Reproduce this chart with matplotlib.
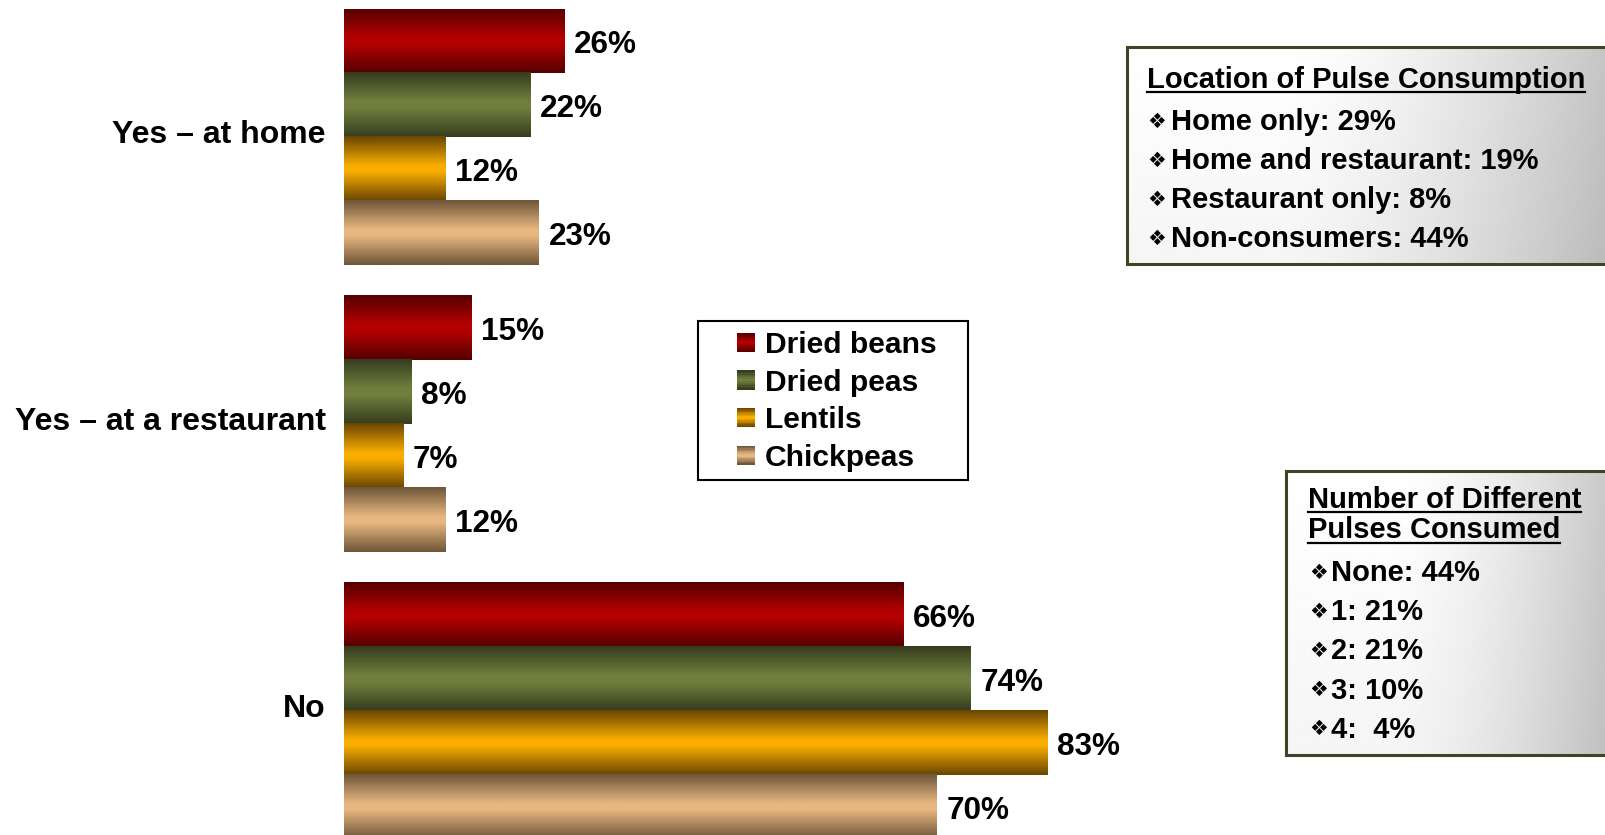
import numpy as np
import matplotlib.pyplot as plt
from matplotlib.colors import LinearSegmentedColormap
from matplotlib.legend_handler import HandlerBase
from matplotlib.patches import Rectangle
from matplotlib.lines import Line2D
from matplotlib.transforms import ScaledTranslation

plt.rcParams['font.family'] = ['Liberation Sans', 'DejaVu Sans']
plt.rcParams['font.weight'] = 'bold'

categories = ['Yes – at home', 'Yes – at a restaurant', 'No']
series = ['Dried beans', 'Dried peas', 'Lentils', 'Chickpeas']
beans = [26, 15, 66]
peas = [22, 8, 74]
lentils = [12, 7, 83]
chickpeas = [23, 12, 70]

location_title = 'Location of Pulse Consumption'
location_items = ['Home only: 29%', 'Home and restaurant: 19%',
                  'Restaurant only: 8%', 'Non-consumers: 44%']
number_title = ['Number of Different', 'Pulses Consumed']
number_items = ['None: 44%', '1: 21%', '2: 21%', '3: 10%', '4:  4%']

# (dark edge, bright middle) for the shaded bars
colors = [('#560000', '#b50000'),
          ('#353d1e', '#717f3e'),
          ('#6a4600', '#f9ad00'),
          ('#6f573a', '#e8b680')]

W, H = 1606, 835
fig = plt.figure(figsize=(W / 100, H / 100), dpi=100)


def fx(px):
    return px / W


def fy(py):
    return 1 - py / H


class GradientHandler(HandlerBase):
    def __init__(self, cmap):
        super().__init__()
        self.cmap = cmap

    def create_artists(self, legend, orig_handle, xdescent, ydescent,
                       width, height, fontsize, trans):
        n = 14
        out = []
        for k in range(n):
            r = Rectangle((-xdescent, -ydescent + height * (n - 1 - k) / n),
                          width, height / n * 1.05,
                          facecolor=self.cmap(k / (n - 1)), edgecolor='none',
                          transform=trans)
            out.append(r)
        return out


# axes: 287 px per category, bars start at x=344 px
h = 0.223
unit = 287.0
top_px = 9.2
span = 2 + 4 * h
ax = fig.add_axes([fx(344), fy(top_px + span * unit), 847 / W, span * unit / H])
y = np.arange(len(categories))
grad = np.linspace(0, 1, 64).reshape(-1, 1)
containers = []
handlers = {}
for j, vals in enumerate([beans, peas, lentils, chickpeas]):
    dark, mid = colors[j]
    cmap = LinearSegmentedColormap.from_list(
        'g%d' % j, [(0, dark), (0.45, mid), (0.55, mid), (1, dark)])
    bars = ax.barh(y + (j - 1.5) * h, vals, height=h, color=mid)
    for b in bars:
        ax.imshow(grad, cmap=cmap, aspect='auto', interpolation='bilinear',
                  extent=(b.get_x(), b.get_x() + b.get_width(),
                          b.get_y() + b.get_height(), b.get_y()), zorder=3)
    for b, v in zip(bars, vals):
        ax.annotate(f'{v}%', (b.get_width(), b.get_y() + b.get_height() / 2),
                    xytext=(7, -3), textcoords='offset points',
                    va='center', ha='left', fontsize=22.7, fontweight='bold')
    containers.append(bars)
    handlers[bars] = GradientHandler(cmap)

ax.set_xlim(0, 100)
ax.set_ylim(2 + 2 * h, -2 * h)
ax.set_yticks(y, categories, fontsize=23, fontweight='bold')
ax.tick_params(axis='y', length=0, pad=13)
ax.set_xticks([])
for s in ax.spines.values():
    s.set_visible(False)
# category labels sit a little above the group centres
lift = ScaledTranslation(0, 4 / 72, fig.dpi_scale_trans)
for lab in ax.get_yticklabels():
    lab.set_transform(lab.get_transform() + lift)

# legend
fig.legend(containers, series, handler_map=handlers, loc='upper left',
           bbox_to_anchor=(fx(737), fy(331)), borderaxespad=0, borderpad=0,
           frameon=False, fontsize=21.6, handlelength=0.6, handleheight=0.6,
           handletextpad=0.33, labelspacing=0.32)
fig.add_artist(Rectangle((fx(698), fy(480)), 270 / W, 159 / H,
                         transform=fig.transFigure, fill=False,
                         ec='black', lw=1.5))


def text_box(x0, y0, x1, y1):
    bax = fig.add_axes([fx(x0), fy(y1), (x1 - x0) / W, (y1 - y0) / H])
    X, Y = np.meshgrid(np.linspace(0, 1, 200), np.linspace(0, 1, 100))
    g = 1 - 0.26 * np.clip((X - 0.3) / 0.7, 0, 1) ** 1.5 - 0.04 * Y
    bax.imshow(g, cmap='gray', vmin=0, vmax=1, extent=(0, 1, 0, 1),
               aspect='auto', interpolation='bilinear')
    bax.set_xticks([])
    bax.set_yticks([])
    for s in bax.spines.values():
        s.set_color('#3d4526')
        s.set_linewidth(2.2)


text_box(1127, 47, 1640, 264)
text_box(1286, 471, 1640, 755)

titles = []
titles.append((fig.text(fx(1147), fy(87.5), location_title, fontsize=21,
                        va='baseline'), 87.5))
for i, item in enumerate(location_items):
    base = 130 + i * 39
    fig.text(fx(1147), fy(base - 2.5), '\u2756', fontsize=15, va='baseline')
    fig.text(fx(1171), fy(base), item, fontsize=21, va='baseline')

for i, line in enumerate(number_title):
    base = 508 + i * 30.5
    titles.append((fig.text(fx(1308), fy(base), line, fontsize=21,
                            va='baseline'), base))
for i, item in enumerate(number_items):
    base = 581 + i * 39.2
    fig.text(fx(1309), fy(base - 2.5), '\u2756', fontsize=15, va='baseline')
    fig.text(fx(1331), fy(base), item, fontsize=21, va='baseline')

fig.canvas.draw()
for t, base in titles:
    bb = t.get_window_extent()
    fig.add_artist(Line2D([bb.x0 / W, bb.x1 / W], [fy(base + 4)] * 2,
                          transform=fig.transFigure, color='black', lw=1.6))

fig.savefig('out.png', dpi=100)
